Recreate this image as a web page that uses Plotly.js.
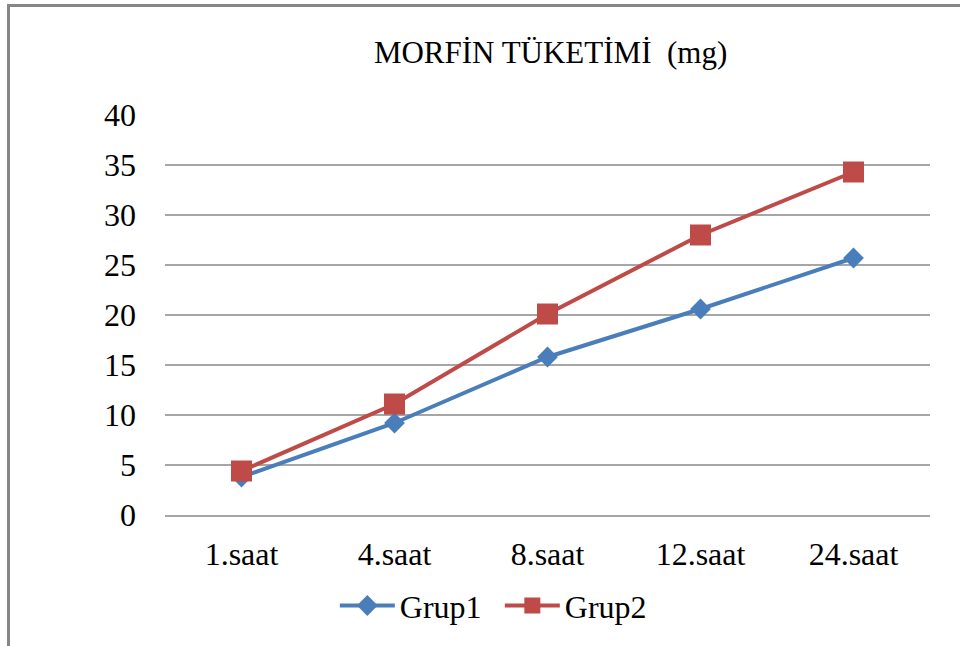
<!DOCTYPE html>
<html>
<head>
<meta charset="utf-8">
<script src="https://cdn.plot.ly/plotly-3.0.1.min.js"></script>
<style>
  html, body { margin: 0; padding: 0; background: #ffffff; }
  #wrap { position: relative; width: 960px; height: 646px; overflow: hidden; }
  #chart { position: absolute; left: 0; top: 0; width: 960px; height: 646px; }
  #frame { position: absolute; left: 7px; top: 4px; width: 980px; height: 680px;
           border: 3px solid #868686; box-sizing: border-box; pointer-events: none; }
</style>
</head>
<body>
<div id="wrap">
  <div id="chart"></div>
  <div id="frame"></div>
</div>
<script>
// Morphine consumption per time point (mg)
const hours = ['1.saat', '4.saat', '8.saat', '12.saat', '24.saat'];
const grup1 = [3.8, 9.2, 15.8, 20.6, 25.7];
const grup2 = [4.4, 11.1, 20.1, 28.0, 34.3];
const yTicks = [0, 5, 10, 15, 20, 25, 30, 35, 40];

const serif = 'Liberation Serif, Times New Roman, serif';

const traces = [
  {
    x: hours, y: grup1, name: 'Grup1', type: 'scatter', mode: 'lines+markers',
    line: { color: '#4a7ebb', width: 4 },
    marker: { symbol: 'diamond', size: 16, color: '#4a7ebb' }
  },
  {
    x: hours, y: grup2, name: 'Grup2', type: 'scatter', mode: 'lines+markers',
    line: { color: '#be4b48', width: 4 },
    marker: { symbol: 'square', size: 21, color: '#be4b48' }
  }
];

const layout = {
  width: 960, height: 646,
  paper_bgcolor: '#ffffff', plot_bgcolor: '#ffffff',
  margin: { l: 165, r: 30, t: 115, b: 131 },
  font: { family: serif, size: 28, color: '#000000' },
  title: {
    text: 'MORFİN TÜKETİMİ  (mg)',
    font: { family: serif, size: 31, color: '#000000' },
    x: 0.504, xref: 'paper', xanchor: 'center',
    y: 0.92, yref: 'container', yanchor: 'middle'
  },
  xaxis: {
    type: 'category', range: [-0.5, 4.5],
    showgrid: false, zeroline: false,
    showline: true, linecolor: '#a6a6a6', linewidth: 2,
    ticks: '', ticklabelstandoff: 10,
    tickfont: { family: serif, size: 32, color: '#000000' }
  },
  yaxis: {
    range: [0, 40], tickvals: yTicks,
    showgrid: true, gridcolor: '#a6a6a6', gridwidth: 2,
    zeroline: false, showline: false, ticks: '',
    ticklabelstandoff: 28,
    tickfont: { family: serif, size: 32, color: '#000000' }
  },
  showlegend: true,
  legend: {
    orientation: 'h', x: 0.222, xanchor: 'left', y: -0.158, yanchor: 'top',
    font: { family: serif, size: 32, color: '#000000' },
    itemwidth: 55, entrywidth: 95
  }
};

Plotly.newPlot('chart', traces, layout, { displayModeBar: false, staticPlot: true });
</script>
</body>
</html>
